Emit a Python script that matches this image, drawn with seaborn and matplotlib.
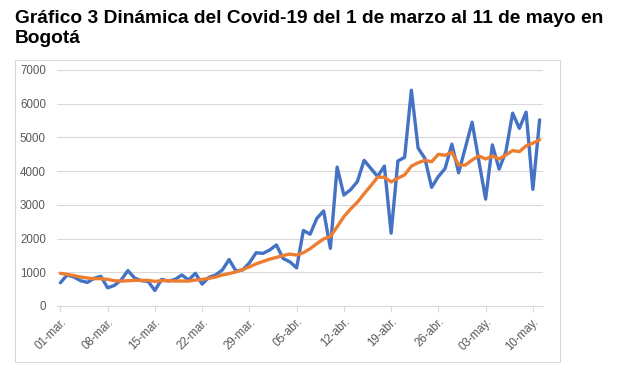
import matplotlib
matplotlib.use("Agg")
import matplotlib.pyplot as plt
import seaborn as sns
import pandas as pd
import numpy as np
from matplotlib.patches import Rectangle

# ---- data ----
casos_diarios = [690, 920, 860, 750, 700, 820, 880, 540, 610, 770,
                 1050, 830, 750, 730, 460, 790, 740, 790, 920, 770,
                 970, 650, 850, 920, 1070, 1380, 1040, 1070, 1280, 1580,
                 1560, 1660, 1810, 1410, 1310, 1130, 2240, 2130, 2600, 2820,
                 1710, 4120, 3290, 3450, 3690, 4320, 4080, 3840, 4150, 2160,
                 4300, 4410, 6400, 4680, 4380, 3520, 3840, 4080, 4800, 3950,
                 4700, 5450, 4300, 3170, 4780, 4060, 4580, 5720, 5270, 5750,
                 3460, 5520]
tendencia = [970, 940, 900, 860, 830, 810, 810, 790, 750, 740,
             750, 760, 760, 760, 730, 750, 750, 740, 740, 740,
             770, 790, 820, 860, 920, 960, 1010, 1080, 1160, 1250,
             1320, 1390, 1440, 1500, 1540, 1510, 1580, 1700, 1850, 1990,
             2060, 2350, 2650, 2880, 3080, 3330, 3570, 3820, 3820, 3680,
             3790, 3890, 4150, 4250, 4320, 4280, 4500, 4470, 4560, 4180,
             4180, 4330, 4450, 4360, 4450, 4360, 4480, 4610, 4580, 4750,
             4830, 4930]
tick_labels = ["01-mar.", "08-mar.", "15-mar.", "22-mar.", "29-mar.", "05-abr.",
               "12-abr.", "19-abr.", "26-abr.", "03-may.", "10-may."]
y_ticks = [0, 1000, 2000, 3000, 4000, 5000, 6000, 7000]
titulo = "Gráfico 3 Dinámica del Covid-19 del 1 de marzo al 11 de mayo en\nBogotá"

dia = np.arange(len(casos_diarios))
df = pd.DataFrame({"dia": dia, "casos": casos_diarios, "tendencia": tendencia})

sns.set_style("white")
plt.rcParams["font.family"] = ["Liberation Sans", "DejaVu Sans"]

W, H = 617, 379
fig = plt.figure(figsize=(W / 100, H / 100), dpi=100)
fig.patch.set_facecolor("white")

# chart border
fig.patches.append(Rectangle((15 / W, 1 - 362 / H), (560 - 15) / W, (362 - 60) / H,
                             transform=fig.transFigure, fill=False,
                             edgecolor="#d9d9d9", linewidth=0.8))

ax = fig.add_axes([57 / W, 1 - 306 / H, (543 - 57) / W, (306 - 70) / H])
ax.set_facecolor("none")

sns.lineplot(data=df, x="dia", y="casos", ax=ax, color="#4472C4", linewidth=2.4)
sns.lineplot(data=df, x="dia", y="tendencia", ax=ax, color="#ED7D31", linewidth=2.4)

ax.set_xlim(-0.5, len(dia) - 0.5)
ax.set_ylim(0, 7000)
ax.set_yticks(y_ticks)
ax.set_yticklabels([str(v) for v in y_ticks])
ax.set_xticks(np.arange(0, len(dia), 7)[:len(tick_labels)])
ax.set_xticklabels(tick_labels, rotation=45, ha="right", rotation_mode="anchor")
ax.set_xlabel("")
ax.set_ylabel("")

ax.grid(axis="y", color="#d9d9d9", linewidth=0.8)
ax.grid(axis="x", visible=False)
for s in ["top", "right", "left"]:
    ax.spines[s].set_visible(False)
ax.spines["bottom"].set_color("#d9d9d9")
ax.spines["bottom"].set_linewidth(0.8)
ax.tick_params(axis="y", length=0, pad=8, labelsize=8.3, labelcolor="#595959")
ax.tick_params(axis="x", length=4, width=0.8, color="#d9d9d9", direction="out",
               pad=3, labelsize=8.3, labelcolor="#595959", bottom=True)

fig.text(15 / W, 1 - 10 / H, titulo, ha="left", va="top", fontsize=13.8,
         fontweight="bold", color="black", linespacing=1.22)

fig.savefig("out.png", dpi=100)
